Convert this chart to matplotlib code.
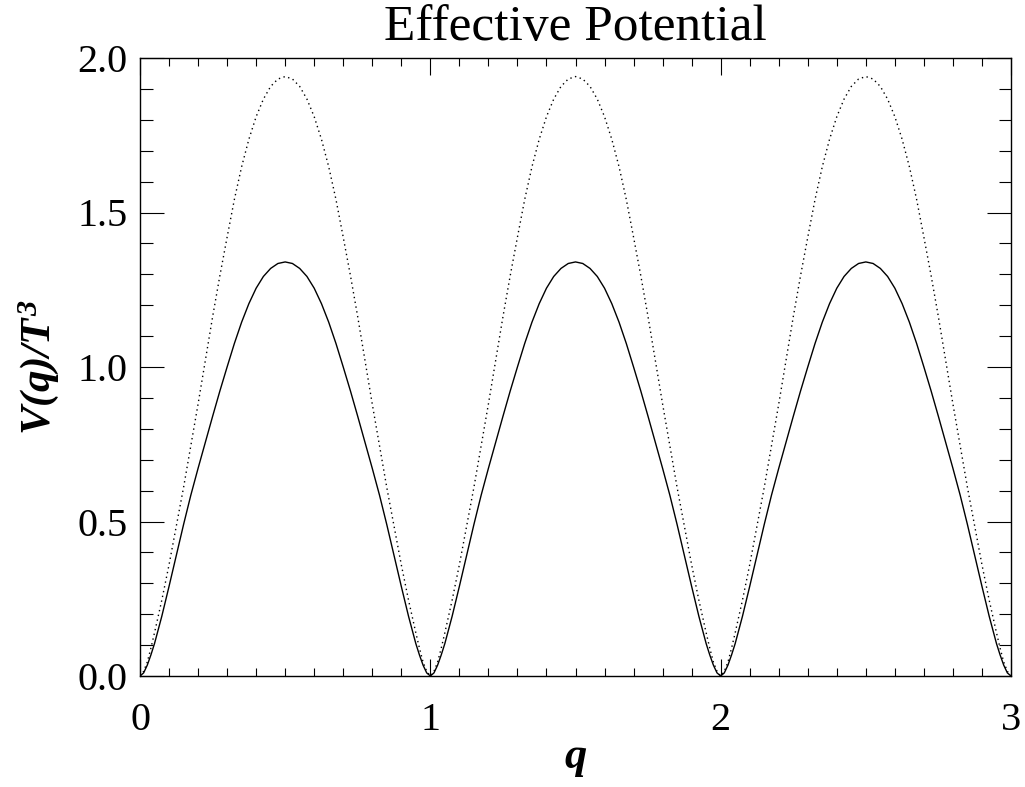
import numpy as np
import matplotlib.pyplot as plt
from matplotlib.ticker import MultipleLocator

# half a period (q from 0 to 0.5); the curve is mirrored
# about q = 0.5 and repeated for q = 1..3
q_half = [0.0, 0.0125, 0.025, 0.0375, 0.05, 0.075, 0.1, 0.125, 0.15, 0.175, 0.2,
          0.225, 0.25, 0.275, 0.3, 0.325, 0.35, 0.375, 0.4, 0.425, 0.45, 0.475, 0.5]
v_solid = [0.0, 0.01, 0.035, 0.068, 0.105, 0.193, 0.29, 0.39, 0.49, 0.585, 0.672,
           0.756, 0.84, 0.922, 1.0, 1.076, 1.145, 1.205, 1.255, 1.293, 1.319, 1.335, 1.34]
v_dot = [0.0, 0.015, 0.045, 0.09, 0.14, 0.245, 0.36, 0.485, 0.61, 0.745, 0.88,
         1.02, 1.162, 1.295, 1.42, 1.542, 1.648, 1.737, 1.81, 1.867, 1.908, 1.932, 1.94]
periods = [0, 1, 2]


def tile(qh, vh):
    q1 = list(qh) + [1 - a for a in qh[-2::-1]]
    v1 = list(vh) + list(vh[-2::-1])
    qq, vv = [], []
    for k in periods:
        qq += [k + a for a in q1]
        vv += v1
    return np.array(qq), np.array(vv)


plt.rcParams['font.family'] = 'Liberation Serif'
plt.rcParams['mathtext.fontset'] = 'custom'
plt.rcParams['mathtext.rm'] = 'Liberation Serif:bold:italic'
plt.rcParams['mathtext.it'] = 'Liberation Serif:bold:italic'

fig = plt.figure(figsize=(10.25, 7.87), dpi=100)
ax = fig.add_axes([140 / 1025, 1 - 676 / 787, 871 / 1025, 618 / 787])

qs, vs = tile(q_half, v_solid)
qd, vd = tile(q_half, v_dot)
ax.plot(qs, vs, color='black', lw=1.0)
ax.plot(qd, vd, color='black', lw=1.0, linestyle=(0, (1, 2.5)))

ax.set_xlim(0, 3)
ax.set_ylim(0, 2.0)
ax.xaxis.set_major_locator(MultipleLocator(1))
ax.xaxis.set_minor_locator(MultipleLocator(0.1))
ax.yaxis.set_minor_locator(MultipleLocator(0.1))
ax.set_yticks([0, 0.5, 1.0, 1.5, 2.0])
ax.set_yticklabels(['0.0', '0.5', '1.0', '1.5', '2.0'])
ax.tick_params(which='both', direction='in', top=True, right=True, labelsize=29, width=0.8)
ax.tick_params(axis='x', which='major', length=12, pad=19)
ax.tick_params(axis='x', which='minor', length=6)
ax.tick_params(axis='y', which='major', length=17, pad=9)
ax.tick_params(axis='y', which='minor', length=9)
for s in ax.spines.values():
    s.set_linewidth(1.0)

ax.set_title('Effective Potential', fontsize=37, pad=13)
ax.set_xlabel(r'$q$', fontsize=32, labelpad=0)
ax.set_ylabel(r'$V(q)/T^3$', fontsize=31, labelpad=12)

fig.savefig('out.png', dpi=100)
